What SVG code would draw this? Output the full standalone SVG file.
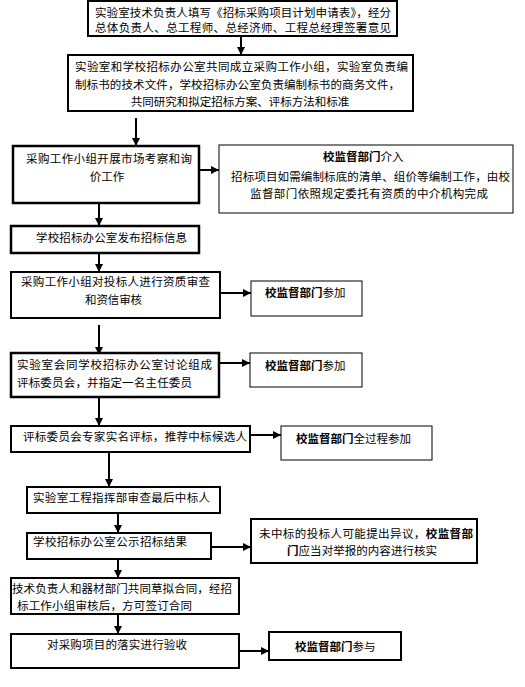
<svg xmlns="http://www.w3.org/2000/svg" width="525" height="687" viewBox="0 0 525 687">
<style>
.b{fill:#fff;stroke:#000;stroke-width:2}
.t{fill:#fff;stroke:#000;stroke-width:2.5}
.s{fill:#fff;stroke:#000;stroke-width:1}
text{font-family:"Noto Sans CJK SC","Noto Sans CJK JP",sans-serif;font-size:11.5px;fill:#000}
.m{text-anchor:middle}
.bd{font-weight:bold}
.c{stroke:#000;stroke-width:2;fill:none;marker-end:url(#ah)}
</style>
<defs>
<marker id="ah" viewBox="0 0 8 8" refX="8" refY="4" markerWidth="4" markerHeight="4" markerUnits="strokeWidth" orient="auto">
<path d="M0,0 L8,4 L0,8 z" fill="#000"/>
</marker>
</defs>
<rect width="525" height="687" fill="#fff"/>
<g id="connectors">
<line class="c" x1="241" y1="36" x2="241" y2="55"/>
<line class="c" x1="136" y1="118" x2="136" y2="146"/>
<line class="c" x1="199" y1="170" x2="219" y2="170"/>
<line class="c" x1="99" y1="203" x2="99" y2="226"/>
<line class="c" x1="99" y1="253" x2="99" y2="272"/>
<line class="c" x1="221" y1="293" x2="251" y2="293"/>
<line class="c" x1="99" y1="325" x2="99" y2="355"/>
<line class="c" x1="219" y1="363" x2="250" y2="363"/>
<line class="c" x1="99" y1="397" x2="99" y2="426"/>
<line class="c" x1="250" y1="435" x2="281" y2="435"/>
<line class="c" x1="109" y1="452" x2="109" y2="487"/>
<line class="c" x1="118" y1="513" x2="118" y2="533"/>
<line class="c" x1="211" y1="547" x2="251" y2="547"/>
<line class="c" x1="118" y1="559" x2="118" y2="578"/>
<line class="c" x1="118" y1="614" x2="118" y2="634"/>
<line class="c" x1="239" y1="651" x2="269" y2="651"/>
</g>
<g id="n1">
<rect class="b" x="88" y="1" width="309" height="35"/>
<text x="95" y="17" textLength="296">实验室技术负责人填写《招标采购项目计划申请表》，经分</text>
<text x="95" y="32" textLength="296">总体负责人、总工程师、总经济师、工程总经理签署意见</text>
</g>
<g id="n2">
<rect class="b" x="68" y="55" width="345" height="56"/>
<text x="75" y="71" textLength="333">实验室和学校招标办公室共同成立采购工作小组，实验室负责编</text>
<text x="75" y="89" textLength="325">制标书的技术文件，学校招标办公室负责编制标书的商务文件，</text>
<text x="240" y="106" class="m">共同研究和拟定招标方案、评标方法和标准</text>
</g>
<g id="n3">
<rect class="t" x="13" y="146" width="186" height="57"/>
<text x="26" y="163" textLength="166">采购工作小组开展市场考察和询</text>
<text x="107" y="181" class="m">价工作</text>
</g>
<g id="s1">
<rect class="s" x="219" y="145" width="294" height="68"/>
<text x="323" y="161"><tspan class="bd">校监督部门</tspan>介入</text>
<text x="231" y="181" textLength="279">招标项目如需编制标底的清单、组价等编制工作，由校</text>
<text x="250" y="198" textLength="238">监督部门依照规定委托有资质的中介机构完成</text>
</g>
<g id="n4">
<rect class="t" x="11" y="226" width="188" height="27"/>
<text x="36" y="242" textLength="151">学校招标办公室发布招标信息</text>
</g>
<g id="n5">
<rect class="b" x="11" y="272" width="209" height="46"/>
<text x="21" y="286" textLength="189">采购工作小组对投标人进行资质审查</text>
<text x="85" y="304" textLength="57">和资信审核</text>
</g>
<g id="s2">
<rect class="s" x="251" y="281" width="111" height="35"/>
<text x="265" y="297"><tspan class="bd">校监督部门</tspan>参加</text>
</g>
<g id="n6">
<rect class="t" x="11" y="353" width="208" height="44"/>
<text x="17" y="369" textLength="195">实验室会同学校招标办公室讨论组成</text>
<text x="17" y="387" textLength="175">评标委员会，并指定一名主任委员</text>
</g>
<g id="s3">
<rect class="s" x="250" y="353" width="112" height="34"/>
<text x="265" y="370"><tspan class="bd">校监督部门</tspan>参加</text>
</g>
<g id="n7">
<rect class="b" x="11" y="426" width="239" height="26"/>
<text x="23" y="441" textLength="224">评标委员会专家实名评标，推荐中标候选人</text>
</g>
<g id="s4">
<rect class="s" x="281" y="426" width="151" height="34"/>
<text x="296" y="443"><tspan class="bd">校监督部门</tspan>全过程参加</text>
</g>
<g id="n8">
<rect class="b" x="27" y="487" width="193" height="26"/>
<text x="33" y="502" textLength="177">实验室工程指挥部审查最后中标人</text>
</g>
<g id="n9">
<rect class="b" x="27" y="533" width="184" height="26"/>
<text x="33" y="546" textLength="154">学校招标办公室公示招标结果</text>
</g>
<g id="s5">
<rect class="b" x="251" y="519" width="226" height="44"/>
<text x="259" y="538" textLength="214">未中标的投标人可能提出异议，<tspan class="bd">校监督部</tspan></text>
<text x="287" y="555" textLength="150"><tspan class="bd">门</tspan>应当对举报的内容进行核实</text>
</g>
<g id="n10">
<rect class="b" x="11" y="578" width="228" height="36"/>
<text x="12" y="593" textLength="220">技术负责人和器材部门共同草拟合同，经招</text>
<text x="17" y="610" textLength="175">标工作小组审核后，方可签订合同</text>
</g>
<g id="n11">
<rect class="b" x="11" y="634" width="228" height="34"/>
<text x="47" y="649" textLength="140">对采购项目的落实进行验收</text>
</g>
<g id="s6">
<rect class="b" x="269" y="632" width="132" height="28"/>
<text x="295" y="651"><tspan class="bd">校监督部门</tspan>参与</text>
</g>
</svg>
